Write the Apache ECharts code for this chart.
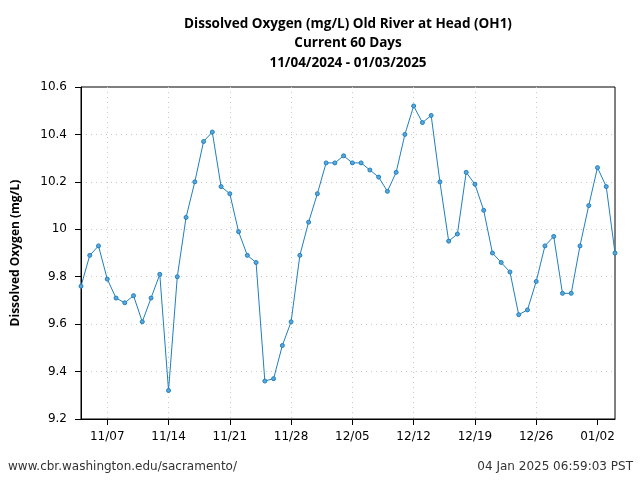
<!DOCTYPE html>
<html>
<head>
<meta charset="utf-8">
<script src="https://cdn.jsdelivr.net/npm/echarts@6/dist/echarts.min.js"></script>
<style>
  html, body { margin: 0; padding: 0; background: #fff; }
  #chart { width: 640px; height: 480px; }
</style>
</head>
<body>
<div id="chart"></div>
<script>
// daily values, 11/04/2024 .. 01/04/2025
const startDate = new Date(2024, 10, 4);
const doValues = [
  9.76, 9.89, 9.93, 9.79, 9.71, 9.69, 9.72, 9.61, 9.71, 9.81,
  9.32, 9.80, 10.05, 10.20, 10.37, 10.41, 10.18, 10.15, 9.99, 9.89,
  9.86, 9.36, 9.37, 9.51, 9.61, 9.89, 10.03, 10.15, 10.28, 10.28,
  10.31, 10.28, 10.28, 10.25, 10.22, 10.16, 10.24, 10.40, 10.52, 10.45,
  10.48, 10.20, 9.95, 9.98, 10.24, 10.19, 10.08, 9.90, 9.86, 9.82,
  9.64, 9.66, 9.78, 9.93, 9.97, 9.73, 9.73, 9.93, 10.10, 10.26,
  10.18, 9.90
];
const titleLines = [
  'Dissolved Oxygen (mg/L) Old River at Head (OH1)',
  'Current 60 Days',
  '11/04/2024 - 01/03/2025'
];
const yAxisName = 'Dissolved Oxygen (mg/L)';
const footerLeft = 'www.cbr.washington.edu/sacramento/';
const footerRight = '04 Jan 2025 06:59:03 PST';

const pad = n => (n < 10 ? '0' : '') + n;
const dates = doValues.map((v, i) => {
  const d = new Date(startDate.getFullYear(), startDate.getMonth(), startDate.getDate() + i);
  return pad(d.getMonth() + 1) + '/' + pad(d.getDate());
});
// weekly ticks starting at 11/07
const weekly = (idx) => (idx - 3) % 7 === 0 && idx >= 3;

const chart = echarts.init(document.getElementById('chart'));
chart.setOption({
  animation: false,
  title: {
    text: titleLines.join('\n'),
    left: 343,
    textAlign: 'center',
    top: 9,
    textStyle: {
      fontFamily: 'Open Sans',
      fontWeight: 'bold',
      fontSize: 13.5,
      lineHeight: 19.5,
      color: '#000'
    }
  },
  grid: {
    left: 81, right: 25, top: 87, bottom: 61,
    outerBoundsMode: 'none',
    show: true, borderColor: '#000', borderWidth: 1
  },
  xAxis: {
    type: 'category',
    data: dates,
    boundaryGap: false,
    axisLine: { lineStyle: { color: '#000', width: 1 } },
    axisTick: { interval: weekly, length: 6, lineStyle: { color: '#000' } },
    axisLabel: {
      interval: weekly, margin: 12,
      fontFamily: 'DejaVu Sans', fontSize: 12, color: '#000'
    },
    splitLine: {
      show: true, interval: weekly, showMaxLine: false,
      lineStyle: { color: '#c8c8c8', type: [1, 4], width: 1 }
    }
  },
  yAxis: {
    type: 'value',
    min: 9.2, max: 10.6, interval: 0.2,
    name: yAxisName,
    nameLocation: 'middle',
    nameGap: 59,
    nameTextStyle: {
      fontFamily: 'Open Sans', fontWeight: 'bold', fontSize: 12, color: '#000'
    },
    axisLine: { show: true, lineStyle: { color: '#000', width: 1 } },
    axisTick: { show: true, length: 6, lineStyle: { color: '#000' } },
    axisLabel: {
      margin: 14, fontFamily: 'DejaVu Sans', fontSize: 12, color: '#000',
      formatter: v => String(+v.toFixed(1))
    },
    splitLine: {
      showMaxLine: false, showMinLine: false,
      lineStyle: { color: '#c8c8c8', type: [1, 4], width: 1 }
    }
  },
  series: [{
    type: 'line',
    data: doValues,
    symbol: 'circle',
    symbolSize: 4,
    showAllSymbol: true,
    lineStyle: { color: '#1f7fbf', width: 1 },
    itemStyle: { color: '#5aa6d8', borderColor: '#1f7fbf', borderWidth: 1 }
  }],
  graphic: [
    {
      type: 'text', left: 8, top: 461,
      style: { text: footerLeft, fontFamily: 'DejaVu Sans', fontSize: 12, fill: '#333' }
    },
    {
      type: 'text', right: 7, top: 461,
      style: { text: footerRight, fontFamily: 'DejaVu Sans', fontSize: 12, fill: '#333' }
    }
  ]
});
</script>
</body>
</html>
